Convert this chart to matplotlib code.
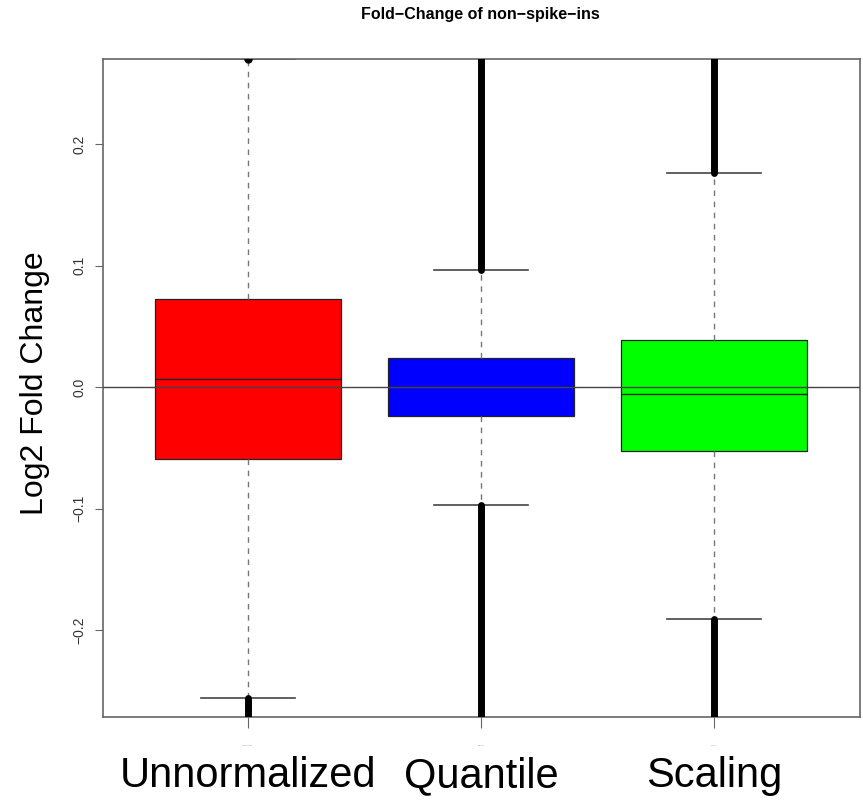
import matplotlib
matplotlib.use("Agg")
import matplotlib.pyplot as plt
from matplotlib import font_manager

# Summary statistics of log2 fold-change per normalization method
categories = ["Unnormalized", "Quantile", "Scaling"]
q1 = [-0.0593, -0.0239, -0.0527]
median = [0.0066, 0.0, -0.0058]
q3 = [0.0724, 0.0239, 0.0387]
whisker_lo = [-0.256, -0.0971, -0.191]
whisker_hi = [0.2698, 0.0963, 0.176]
# extent of the (very dense) outlier points beyond each whisker
outlier_hi_max = [0.2698, 0.28, 0.28]
outlier_lo_min = [-0.28, -0.28, -0.28]
box_colors = ["#ff0000", "#0000ff", "#00ff00"]
yticks = [-0.2, -0.1, 0.0, 0.1, 0.2]
ylim = (-0.2716, 0.27)

names = {f.name for f in font_manager.fontManager.ttflist}
title_family = "Liberation Sans Narrow" if "Liberation Sans Narrow" in names else "Liberation Sans"

fig = plt.figure(figsize=(8.63, 8.05), dpi=100)
ax = fig.add_axes([103 / 863, 1 - 717 / 805, 757 / 863, 658 / 805])

positions = [1, 2, 3]
stats = []
for i, name in enumerate(categories):
    stats.append(dict(med=median[i], q1=q1[i], q3=q3[i],
                      whislo=whisker_lo[i], whishi=whisker_hi[i],
                      fliers=[], label=name))

bp = ax.bxp(stats, positions=positions, widths=0.8, capwidths=0.4,
            patch_artist=True, showfliers=False,
            boxprops=dict(edgecolor="#222222", linewidth=0.9),
            medianprops=dict(color="#222222", linewidth=1.0),
            whiskerprops=dict(color="#777777", linestyle=(0, (4, 4)), linewidth=1.0),
            capprops=dict(color="#444444", linewidth=1.2))
for patch, c in zip(bp["boxes"], box_colors):
    patch.set_facecolor(c)

# dense outlier columns above and below the whiskers
for i, x in enumerate(positions):
    if outlier_hi_max[i] > whisker_hi[i]:
        ax.vlines(x, whisker_hi[i], outlier_hi_max[i], color="black",
                  linewidth=5, capstyle="round", zorder=4)
    else:
        ax.plot([x], [whisker_hi[i]], "o", color="black", markersize=5, zorder=4)
    ax.vlines(x, outlier_lo_min[i], whisker_lo[i], color="black",
              linewidth=5, capstyle="round", zorder=4)

ax.axhline(0.0, color="#444444", linewidth=1.0, zorder=3)

ax.set_xlim(0.378, 3.627)
ax.set_ylim(*ylim)

for s in ax.spines.values():
    s.set_color("#666666")
    s.set_linewidth(1.2)

ax.set_yticks(yticks)
ax.set_yticklabels([f"{v:.1f}".replace("-", "\u2212") for v in yticks],
                   rotation=90, va="center", fontsize=10, color="#333333",
                   family="Liberation Sans")
ax.tick_params(axis="y", length=6, color="#666666", pad=6)

ax.set_xticks(positions)
ax.set_xticklabels(categories, fontsize=1.2, color="#888888")
ax.tick_params(axis="x", length=8, color="#666666", pad=12)

for x, name in zip(positions, categories):
    ax.text(x, -0.3292, name, ha="center", va="baseline", fontsize=30,
            family="Liberation Sans", color="black", transform=ax.transData,
            clip_on=False)

fig.text(35 / 863, 1 - 383 / 805, "Log2 Fold Change", rotation=90,
         ha="center", va="center", fontsize=23, family="Liberation Sans")

fig.text(480 / 863, 1 - 15 / 805, "Fold\u2212Change of non\u2212spike\u2212ins",
         ha="center", va="center", fontsize=11.5, fontweight="bold",
         family=title_family)

fig.savefig("out.png", dpi=100)
